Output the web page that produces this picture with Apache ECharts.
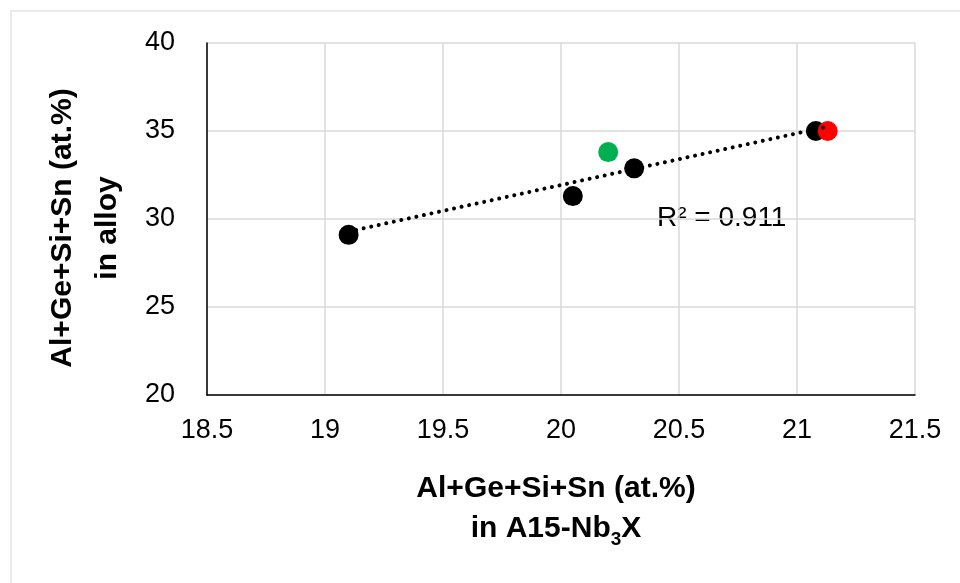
<!DOCTYPE html>
<html>
<head>
<meta charset="utf-8">
<script src="https://cdn.jsdelivr.net/npm/echarts@6/dist/echarts.min.js"></script>
<style>
  html, body { margin: 0; padding: 0; background: #fff; }
  #myecharts { width: 960px; height: 583px; }
</style>
</head>
<body>
<div id="myecharts"></div>
<script>
// data
var blackX = [19.1, 20.05, 20.31, 21.08];
var blackY = [29.1, 31.3, 32.88, 35.0];
var greenX = [20.2];
var greenY = [33.8];
var redX = [21.13];
var redY = [35.0];
var xTicks = [18.5, 19, 19.5, 20, 20.5, 21, 21.5];
var yTicks = [20, 25, 30, 35, 40];

// linear trendline over all points (Excel style)
var allX = blackX.concat(greenX, redX);
var allY = blackY.concat(greenY, redY);
function fit(xs, ys) {
    var n = xs.length, mx = 0, my = 0;
    for (var i = 0; i < n; i++) { mx += xs[i]; my += ys[i]; }
    mx /= n; my /= n;
    var sxy = 0, sxx = 0;
    for (var j = 0; j < n; j++) {
        sxy += (xs[j] - mx) * (ys[j] - my);
        sxx += (xs[j] - mx) * (xs[j] - mx);
    }
    var k = sxy / sxx;
    return { k: k, b: my - k * mx };
}
var lr = fit(allX, allY);
var xMin = Math.min.apply(null, allX);
var xMax = Math.max.apply(null, allX);
var trend = [[xMin, lr.k * xMin + lr.b], [xMax, lr.k * xMax + lr.b]];

function pairs(xs, ys) {
    return xs.map(function (x, i) { return [x, ys[i]]; });
}

var titleFont = '"Liberation Sans", Arial, sans-serif';

var myChart = echarts.init(document.getElementById('myecharts'));
var option = {
    backgroundColor: '#fff',
    animation: false,
    grid: { left: 207, right: 45, top: 43, bottom: 188 },
    graphic: [
        {
            type: 'rect',
            shape: { x: 11, y: 11, width: 1200, height: 1200 },
            style: { fill: 'none', stroke: '#e3e3e3', lineWidth: 1.5 },
            silent: true
        },
        {
            type: 'text',
            left: 657,
            top: 204,
            style: {
                text: 'R² = 0.911',
                font: '28px "Liberation Sans", Arial, sans-serif',
                fill: '#000'
            }
        }
    ],
    xAxis: {
        type: 'value',
        min: 18.5,
        max: 21.5,
        interval: 0.5,
        axisLine: { show: true, onZero: false, lineStyle: { color: '#000', width: 1.5 } },
        axisTick: { show: false },
        splitLine: { show: true, lineStyle: { color: '#d9d9d9', width: 1.5 } },
        axisLabel: {
            margin: 22,
            color: '#000',
            fontSize: 27,
            fontFamily: titleFont,
            formatter: function (v) { return xTicks.indexOf(v) >= 0 ? String(v) : ''; }
        },
        name: '{b|Al+Ge+Si+Sn (at.%)}\n{b|in A15-Nb}{s|3}{b|X}',
        nameLocation: 'middle',
        nameGap: 74,
        nameTextStyle: {
            verticalAlign: 'top',
            lineHeight: 40,
            padding: [0, 10, 0, 0],
            rich: {
                b: { fontSize: 30, fontWeight: 'bold', color: '#000', lineHeight: 40, fontFamily: titleFont },
                s: { fontSize: 19, fontWeight: 'bold', color: '#000', lineHeight: 40,
                     padding: [16, 0, 0, 0], verticalAlign: 'bottom', fontFamily: titleFont }
            }
        }
    },
    yAxis: {
        type: 'value',
        min: 20,
        max: 40,
        interval: 5,
        axisLine: { show: true, onZero: false, lineStyle: { color: '#000', width: 1.5 } },
        axisTick: { show: false },
        splitLine: { show: true, lineStyle: { color: '#d9d9d9', width: 1.5 } },
        axisLabel: {
            margin: 32,
            color: '#000',
            fontSize: 27,
            fontFamily: titleFont,
            formatter: function (v) { return yTicks.indexOf(v) >= 0 ? String(v) : ''; }
        },
        name: 'Al+Ge+Si+Sn (at.%)\nin alloy',
        nameLocation: 'middle',
        nameGap: 77,
        nameRotate: 90,
        nameTextStyle: {
            fontSize: 30,
            fontWeight: 'bold',
            color: '#000',
            lineHeight: 45,
            padding: [0, 18, 0, 0],
            fontFamily: titleFont
        }
    },
    series: [
        {
            name: 'black',
            type: 'scatter',
            symbolSize: 20,
            itemStyle: { color: '#000', opacity: 1 },
            data: pairs(blackX, blackY),
            z: 2
        },
        {
            name: 'green',
            type: 'scatter',
            symbolSize: 20,
            itemStyle: { color: '#00b050', opacity: 1 },
            data: pairs(greenX, greenY),
            z: 2
        },
        {
            name: 'red',
            type: 'scatter',
            symbolSize: 20,
            itemStyle: { color: '#ff0000', opacity: 1 },
            data: pairs(redX, redY),
            z: 3
        },
        {
            name: 'trend',
            type: 'line',
            symbol: 'none',
            data: trend,
            lineStyle: { color: '#000', width: 4, type: [0.01, 7.7], cap: 'round' },
            z: 4
        }
    ]
};
myChart.setOption(option);
</script>
</body>
</html>
